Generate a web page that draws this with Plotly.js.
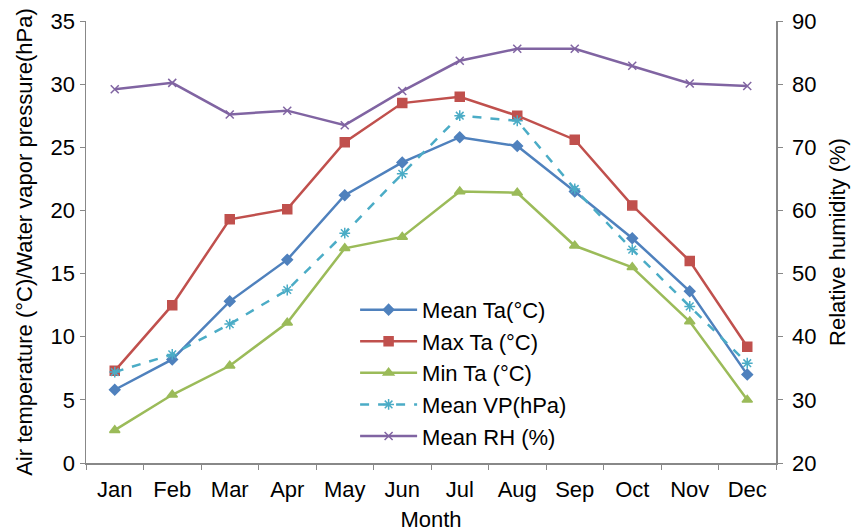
<!DOCTYPE html>
<html>
<head>
<meta charset="utf-8">
<script src="https://cdn.plot.ly/plotly-3.0.1.min.js"></script>
<style>body{margin:0;background:#fff}#chart{width:862px;height:532px}</style>
</head>
<body>
<div id="chart"></div>
<script>
const months = ["Jan","Feb","Mar","Apr","May","Jun","Jul","Aug","Sep","Oct","Nov","Dec"];
const meanTa = [5.8, 8.2, 12.8, 16.1, 21.2, 23.8, 25.8, 25.1, 21.5, 17.8, 13.6, 7.0];
const maxTa  = [7.3, 12.5, 19.3, 20.1, 25.4, 28.5, 29.0, 27.5, 25.6, 20.4, 16.0, 9.2];
const minTa  = [2.6, 5.4, 7.7, 11.1, 17.0, 17.9, 21.5, 21.4, 17.2, 15.5, 11.2, 5.0];
const meanVP = [7.2, 8.6, 11.0, 13.7, 18.2, 22.9, 27.5, 27.1, 21.7, 16.9, 12.4, 7.9];
const meanRH = [79.2, 80.2, 75.2, 75.8, 73.5, 78.9, 83.7, 85.6, 85.6, 82.9, 80.1, 79.7];

const FONT = "Liberation Sans, Arial, sans-serif";
const FS = 22;
function tr(name, y, color, symbol, size, dash, yaxis) {
  return {
    x: months, y: y, name: name, type: "scatter", mode: "lines+markers",
    line: {color: color, width: 2.5, dash: dash || "solid"},
    marker: {symbol: symbol, size: size, color: color, line: {color: color, width: 1.5}},
    yaxis: yaxis || "y"
  };
}
const data = [
  tr("Mean Ta(°C)", meanTa, "#4F81BD", "diamond", 8, null, "y"),
  tr("Max Ta (°C)", maxTa, "#C0504D", "square", 9, null, "y"),
  tr("Min Ta (°C)", minTa, "#9BBB59", "triangle-up", 9, null, "y"),
  tr("Mean VP(hPa)", meanVP, "#4BACC6", "asterisk-open", 9, "dash", "y"),
  tr("Mean RH (%)", meanRH, "#8064A2", "x-thin-open", 8, null, "y2")
];
const layout = {
  width: 862, height: 532,
  margin: {l: 86, r: 86, t: 21, b: 69},
  paper_bgcolor: "#fff", plot_bgcolor: "#fff",
  font: {family: FONT, size: FS, color: "#000"},
  showlegend: true,
  legend: {x: 0.39, y: 0.204, xanchor: "left", yanchor: "middle", bgcolor: "rgba(0,0,0,0)",
           traceorder: "normal", itemwidth: 57,
           font: {size: FS, family: FONT}},
  xaxis: {
    type: "category", range: [-0.5, 11.5], showline: true, linecolor: "#888", linewidth: 1.5,
    ticks: "outside", tickson: "boundaries", ticklen: 5, tickcolor: "#888",
    showgrid: false, zeroline: false, tickfont: {size: FS}, ticklabelstandoff: 6,
    title: {text: "Month", font: {size: FS}, standoff: 12}
  },
  yaxis: {
    range: [0, 35], dtick: 5, showline: true, linecolor: "#888", linewidth: 1.5,
    ticks: "outside", ticklen: 5, tickcolor: "#888", showgrid: false, zeroline: false,
    tickfont: {size: FS},
    title: {text: "Air temperature (°C)/Water vapor pressure(hPa)", font: {size: FS}, standoff: 12}
  },
  yaxis2: {
    range: [20, 90], dtick: 10, overlaying: "y", side: "right", showline: true,
    linecolor: "#888", linewidth: 1.5, ticks: "outside", ticklen: 5, tickcolor: "#888",
    showgrid: false, zeroline: false, tickfont: {size: FS}, ticklabelstandoff: 5,
    title: {text: "Relative humidity (%)", font: {size: FS}, standoff: 14}
  }
};
Plotly.newPlot("chart", data, layout, {displayModeBar: false, staticPlot: true});
</script>
</body>
</html>
